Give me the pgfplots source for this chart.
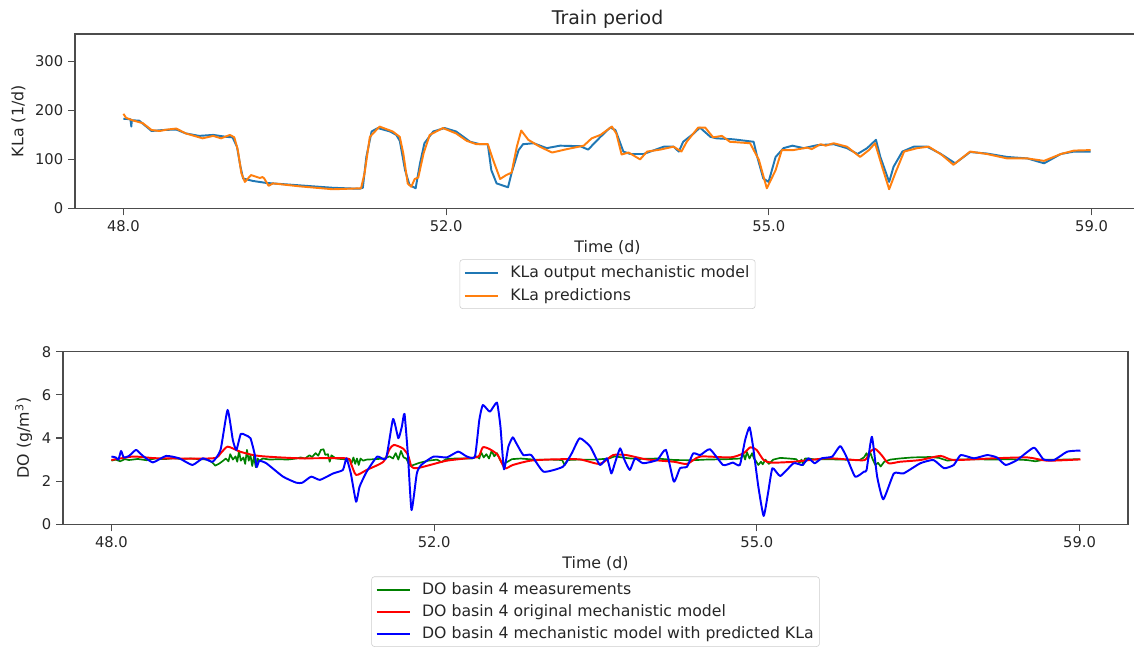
\documentclass[border=0pt]{standalone}
\usepackage{pgfplots}
\pgfplotsset{compat=1.18}
\usepackage{fontspec}
\setmainfont{DejaVu Sans}

\definecolor{mplblue}{RGB}{31,119,180}
\definecolor{mplorange}{RGB}{255,127,14}
\definecolor{mplgreen}{RGB}{0,128,0}
\definecolor{mplred}{RGB}{255,0,0}
\definecolor{mplpure}{RGB}{0,0,255}
\definecolor{txt}{RGB}{38,38,38}

\pgfplotsset{
  mplstyle/.style={
    scale only axis,
    width=766.8pt,
    /pgf/number format/assume math mode=true,
    axis line style={black!70, line width=0.8pt},
    tick style={black!70, line width=0.8pt},
    tick align=outside,
    major tick length=5pt,
    tick pos=left,
    xmin=47.45, xmax=59.55,
    xtick={48,51.6667,55.3333,59},
    xticklabels={48.0,52.0,55.0,59.0},
    ticklabel style={font=\fontsize{10.6}{12}\selectfont, text=txt},
    label style={font=\fontsize{11.4}{13}\selectfont, text=txt},
    xlabel={Time (d)},
    legend cell align=left,
    legend style={
      font=\fontsize{11.3}{13}\selectfont,
      text=txt,
      draw=black!20, rounded corners=2pt, fill=white,
      inner xsep=3pt, inner ysep=3pt,
      row sep=4.2pt,
      nodes={inner sep=1.2pt},
      anchor=north,
      /tikz/every odd column/.append style={column sep=7pt},
    },
    legend image code/.code={\draw[#1, line width=1.4pt] (0pt,0pt) -- (23.8pt,0pt);},
    every axis plot/.append style={line width=1.4pt, line join=round, no marks},
  }
}

\begin{document}
\begin{tikzpicture}
\useasboundingbox (0pt,0pt) rectangle (816.48pt,468.72pt);

% ---------------- KLa ----------------
\begin{axis}[
  mplstyle,
  at={(54pt,318.7pt)}, anchor=south west,
  height=125.5pt,
  ymin=0, ymax=356,
  ytick={0,100,200,300},
  ylabel={KLa (1/d)},
  title={Train period},
  title style={font=\fontsize{13.6}{16}\selectfont, text=txt, yshift=-5.5pt},
  legend style={at={(0.5,-0.293)}},
]
\addplot[mplblue] coordinates {
(48.00,183) (48.08,182) (48.09,167) (48.095,180) (48.18,179) (48.32,158)
(48.45,160) (48.60,161) (48.71,153) (48.86,148) (49.02,150) (49.17,146)
(49.24,145) (49.29,126) (49.33,85) (49.36,61) (49.47,56) (49.62,52)
(50.00,47) (50.38,42) (50.68,40) (50.72,42) (50.76,105) (50.82,157)
(50.89,164) (51.03,157) (51.10,150) (51.14,138) (51.20,78) (51.25,48)
(51.32,41) (51.37,92) (51.42,133) (51.52,157) (51.65,164) (51.78,157)
(51.94,136) (52.05,131) (52.14,131) (52.18,78) (52.24,51) (52.37,43)
(52.41,72) (52.49,119) (52.54,131) (52.66,133) (52.81,123) (52.96,128)
(53.19,127) (53.28,120) (53.42,146) (53.53,165) (53.59,160) (53.68,116)
(53.76,111) (53.91,111) (54.14,126) (54.25,126) (54.31,116) (54.36,136)
(54.48,153) (54.55,165) (54.67,146) (54.74,143) (54.93,141) (55.16,136)
(55.20,106) (55.27,61) (55.33,54) (55.41,105) (55.50,123) (55.60,128)
(55.73,123) (55.88,129) (56.07,131) (56.22,123) (56.34,111) (56.45,123)
(56.55,140) (56.60,105) (56.70,54) (56.75,85) (56.85,116) (56.98,126)
(57.13,126) (57.28,112) (57.45,92) (57.62,115) (57.81,112) (58.04,105)
(58.27,102) (58.46,92) (58.65,111) (58.80,116) (58.99,116)
};
\addlegendentry{KLa output mechanistic model}
\addplot[mplorange] coordinates {
(48.00,193) (48.03,185) (48.10,180) (48.22,174) (48.32,160) (48.41,158)
(48.50,161) (48.60,163) (48.71,153) (48.90,143) (49.02,148) (49.11,143)
(49.21,150) (49.26,145) (49.30,119) (49.34,72) (49.38,54) (49.45,68)
(49.50,65) (49.55,62) (49.58,64) (49.60,61) (49.65,46) (49.70,51)
(50.00,45) (50.38,39) (50.70,41) (50.74,72) (50.80,146) (50.91,167)
(51.06,157) (51.14,146) (51.18,112) (51.23,51) (51.27,44) (51.31,60)
(51.35,63) (51.41,112) (51.48,150) (51.63,164) (51.78,153) (51.90,138)
(52.01,131) (52.14,131) (52.20,99) (52.28,60) (52.35,68) (52.41,73)
(52.47,126) (52.52,159) (52.60,140) (52.73,126) (52.87,114) (53.04,121)
(53.23,128) (53.32,143) (53.42,150) (53.55,167) (53.60,153) (53.66,110)
(53.74,114) (53.87,100) (53.95,116) (54.10,120) (54.25,126) (54.34,116)
(54.40,136) (54.53,165) (54.61,165) (54.70,145) (54.80,148) (54.89,136)
(55.12,133) (55.22,99) (55.31,41) (55.41,78) (55.48,119) (55.61,119)
(55.77,124) (55.82,121) (55.92,131) (55.98,128) (56.07,133) (56.22,126)
(56.37,105) (56.47,119) (56.54,133) (56.62,85) (56.70,39) (56.77,72)
(56.87,116) (57.02,123) (57.15,126) (57.30,109) (57.43,89) (57.62,116)
(57.81,111) (58.04,102) (58.27,102) (58.46,97) (58.65,111) (58.80,118)
(58.99,119)
};
\addlegendentry{KLa predictions}
\end{axis}

% ---------------- DO ----------------
\begin{axis}[
  mplstyle,
  at={(45.36pt,91.2pt)}, anchor=south west,
  height=124.3pt,
  ymin=0, ymax=8,
  ytick={0,2,4,6,8},
  ylabel={DO (g/m\textsuperscript{3})},
  legend style={at={(0.5,-0.302)}, row sep=3.4pt},
]
\addplot[mplgreen, line width=1.2pt] coordinates {
(48.00,2.95) (48.05,3.00) (48.10,2.92) (48.15,3.02) (48.20,2.98) (48.30,3.03)
(48.40,2.97) (48.50,3.05) (48.60,3.02) (48.70,3.06) (48.80,3.03) (48.90,3.05)
(49.00,3.02) (49.10,3.00) (49.15,2.85) (49.18,2.72) (49.22,2.80) (49.27,2.95)
(49.30,3.05) (49.33,2.92) (49.35,3.25) (49.38,3.00) (49.41,3.15) (49.43,2.90)
(49.45,3.40) (49.47,2.95) (49.50,3.10) (49.52,2.80) (49.54,3.45) (49.56,2.95)
(49.58,3.20) (49.60,2.70) (49.62,3.15) (49.64,2.65) (49.66,3.05)
(49.68,2.95) (49.72,3.05) (49.80,3.00) (49.90,3.02) (50.00,3.00)
(50.10,3.05) (50.15,3.10) (50.20,3.05) (50.25,3.20) (50.28,3.12) (50.32,3.30)
(50.35,3.18) (50.38,3.45) (50.41,3.48) (50.43,3.22) (50.46,3.25) (50.48,2.90)
(50.50,3.20) (50.55,3.05) (50.60,3.03) (50.70,3.00) (50.73,2.85) (50.75,3.10)
(50.77,2.80) (50.79,3.05) (50.81,2.75) (50.83,3.05) (50.86,2.95) (50.90,3.00)
(51.00,3.02) (51.10,3.05) (51.16,3.15) (51.20,3.05) (51.23,3.30) (51.26,3.00)
(51.29,3.40) (51.32,3.10) (51.35,3.05) (51.38,2.80) (51.40,2.70) (51.43,2.75)
(51.50,2.85) (51.60,2.95) (51.70,3.00) (51.75,2.88) (51.80,3.02) (51.90,3.05)
(52.00,3.05) (52.10,3.05) (52.15,3.15) (52.18,3.05) (52.20,3.35) (52.23,3.10)
(52.26,3.25) (52.29,3.05) (52.32,3.40) (52.35,3.15) (52.38,3.30) (52.42,2.95)
(52.45,2.78) (52.48,2.85) (52.55,3.02) (52.65,3.05) (52.80,3.00) (53.00,3.00)
(53.12,2.98) (53.15,2.75) (53.18,2.98) (53.30,3.00) (53.50,3.00) (53.65,3.05)
(53.72,3.15) (53.80,3.10) (53.90,3.05) (54.00,3.03) (54.20,3.05) (54.40,2.98)
(54.60,2.97) (54.75,3.00) (55.00,3.02) (55.15,3.05) (55.18,3.25) (55.20,3.00)
(55.22,3.35) (55.25,3.05) (55.28,3.30) (55.30,3.05) (55.32,2.95) (55.35,2.75)
(55.38,2.90) (55.40,2.78) (55.43,3.00) (55.47,2.80) (55.52,3.00) (55.60,3.08)
(55.70,3.05) (55.78,3.02) (55.82,2.85) (55.84,3.00) (55.86,2.75) (55.88,3.05)
(55.92,3.05) (56.00,3.00) (56.10,3.02) (56.30,3.00) (56.50,2.98) (56.55,3.10)
(56.58,3.30) (56.60,3.05) (56.62,3.35) (56.65,3.00) (56.68,2.75) (56.71,2.85)
(56.74,2.68) (56.78,2.90) (56.85,3.00) (56.95,3.05) (57.10,3.10) (57.30,3.12)
(57.40,3.08) (57.50,2.95) (57.60,3.00) (57.80,3.02) (58.00,3.00) (58.20,3.02)
(58.40,2.98) (58.50,2.92) (58.60,3.00) (58.80,3.00) (59.00,3.02)
};
\addlegendentry{DO basin 4 measurements}
\addplot[mplred, smooth, tension=0.4] coordinates {
(48.00,2.98) (48.24,3.14) (48.39,3.10) (48.54,3.06) (49.15,3.06) (49.24,3.29)
(49.32,3.60) (49.46,3.37) (49.61,3.21) (49.76,3.14) (50.14,3.06) (50.67,3.06)
(50.72,2.83) (50.78,2.29) (50.90,2.52) (51.09,2.90) (51.16,3.48) (51.21,3.68)
(51.31,3.52) (51.37,3.21) (51.41,2.67) (51.47,2.60) (51.62,2.75) (51.81,2.95)
(52.04,3.06) (52.17,3.14) (52.22,3.57) (52.30,3.48) (52.39,3.21) (52.47,2.60)
(52.56,2.75) (52.76,2.95) (53.02,3.01) (53.32,3.01) (53.55,2.80) (53.70,3.21)
(53.85,3.21) (54.08,3.01) (54.39,2.90) (54.54,2.80) (54.69,3.14) (55.03,3.10)
(55.18,3.29) (55.26,3.57) (55.33,3.45) (55.41,2.98) (55.50,2.86) (55.75,2.90)
(56.13,3.06) (56.35,3.01) (56.56,2.98) (56.62,3.37) (56.68,3.49) (56.75,3.21)
(56.83,2.83) (56.96,2.90) (57.19,2.98) (57.42,3.17) (57.57,2.98) (58.03,3.06)
(58.41,3.10) (58.63,2.95) (59.01,3.01)
};
\addlegendentry{DO basin 4 original mechanistic model}
\addplot[mplpure, smooth, tension=0.3] coordinates {
(48.00,3.14) (48.05,3.10) (48.08,3.00) (48.11,3.40) (48.14,3.10) (48.20,3.17)
(48.28,3.45) (48.35,3.20) (48.47,2.87) (48.62,3.17) (48.77,3.06) (48.92,2.75)
(49.04,3.06) (49.15,2.90) (49.24,3.45) (49.32,5.30) (49.38,3.90) (49.42,3.45)
(49.47,4.19) (49.52,4.14) (49.58,3.99) (49.63,3.21) (49.65,2.65) (49.68,2.94)
(49.76,2.83) (49.95,2.21) (50.10,1.93) (50.17,1.93) (50.27,2.21) (50.37,2.06)
(50.52,2.36) (50.63,2.52) (50.67,3.06) (50.72,2.36) (50.78,1.05) (50.82,1.75)
(50.90,2.44) (51.02,3.14) (51.12,3.05) (51.20,4.88) (51.26,3.99) (51.30,4.53)
(51.33,5.12) (51.37,3.14) (51.41,0.66) (51.47,2.36) (51.52,2.75) (51.66,3.14)
(51.81,3.10) (51.94,3.37) (52.04,3.14) (52.13,3.14) (52.18,4.84) (52.22,5.53)
(52.30,5.22) (52.38,5.64) (52.42,4.53) (52.46,2.55) (52.51,3.60) (52.56,4.03)
(52.60,3.76) (52.68,3.21) (52.77,3.21) (52.91,2.44) (53.13,2.67) (53.23,3.29)
(53.32,3.99) (53.44,3.60) (53.55,2.75) (53.63,3.06) (53.68,2.36) (53.72,2.83)
(53.78,3.52) (53.83,2.98) (53.89,2.52) (53.95,3.06) (54.04,2.83) (54.20,2.98)
(54.30,3.45) (54.39,1.98) (54.46,2.60) (54.54,2.67) (54.61,3.29) (54.69,3.21)
(54.80,3.48) (54.95,2.75) (55.06,2.86) (55.14,2.75) (55.20,3.91) (55.25,4.50)
(55.29,3.60) (55.35,1.75) (55.41,0.39) (55.46,1.44) (55.51,2.60) (55.60,2.24)
(55.75,2.83) (55.85,2.75) (55.92,3.06) (55.99,2.83) (56.07,3.06) (56.19,3.14)
(56.28,3.63) (56.35,3.14) (56.45,2.21) (56.55,2.44) (56.58,2.52) (56.64,4.06)
(56.70,2.21) (56.77,1.16) (56.89,2.36) (57.00,2.36) (57.19,2.83) (57.34,2.98)
(57.46,2.60) (57.57,2.75) (57.65,3.21) (57.80,3.06) (57.95,3.21) (58.06,3.10)
(58.16,2.75) (58.29,2.98) (58.48,3.55) (58.59,3.01) (58.71,2.98) (58.86,3.37)
(59.01,3.42)
};
\addlegendentry{DO basin 4 mechanistic model with predicted KLa}
\end{axis}
\end{tikzpicture}
\end{document}
